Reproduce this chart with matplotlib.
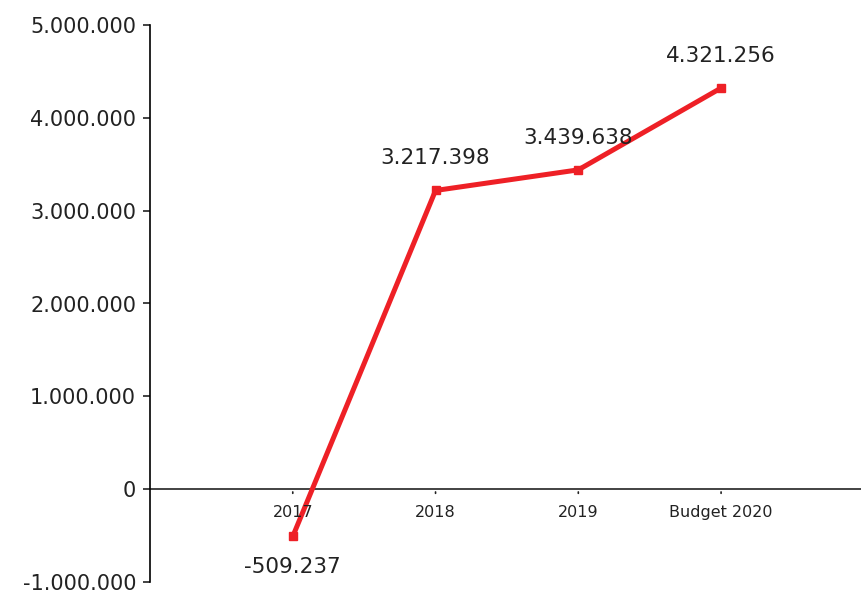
import matplotlib
matplotlib.use("Agg")
import matplotlib.pyplot as plt
from matplotlib.ticker import FuncFormatter

categories = ["2017", "2018", "2019", "Budget 2020"]
values = [-509237, 3217398, 3439638, 4321256]
labels = ["-509.237", "3.217.398", "3.439.638", "4.321.256"]
yticks = [-1000000, 0, 1000000, 2000000, 3000000, 4000000, 5000000]

def fmt(v, pos=None):
    s = f"{abs(int(v)):,}".replace(",", ".")
    return ("-" if v < 0 else "") + s

fig = plt.figure(figsize=(8.61, 5.95), dpi=100)
ax = fig.add_axes([150/861, 13/595, 1 - 150/861, 557/595])
x = list(range(len(categories)))
ax.plot(x, values, color="#EE2026", lw=3.6, marker="s", ms=6, zorder=3)
ax.set_xlim(-1, 3.98)
ax.set_ylim(-1000000, 5000000)
ax.set_yticks(yticks)
ax.yaxis.set_major_formatter(FuncFormatter(fmt))
ax.tick_params(axis="y", labelsize=15, length=5, width=1.2, colors="#222222", pad=5)
for s in ["top", "right", "bottom"]:
    ax.spines[s].set_visible(False)
ax.spines["left"].set_linewidth(1.2)
ax.axhline(0, color="#222222", lw=1.2, zorder=2)
ax.set_xticks([])
for xi, c in zip(x, categories):
    ax.annotate("", xy=(xi, 0), xytext=(0, -5), textcoords="offset points",
                arrowprops=dict(arrowstyle="-", color="#222222", lw=1.2))
    ax.annotate(c, xy=(xi, 0), xytext=(0, -23), textcoords="offset pixels",
                ha="center", va="center", fontsize=11.5, color="#222222")
for xi, v, lab in zip(x, values, labels):
    off = 32 if v >= 0 else -31
    ax.annotate(lab, xy=(xi, v), xytext=(0, off), textcoords="offset pixels",
                ha="center", va="center", fontsize=15.5, color="#222222")
fig.savefig("out.png", dpi=100)
